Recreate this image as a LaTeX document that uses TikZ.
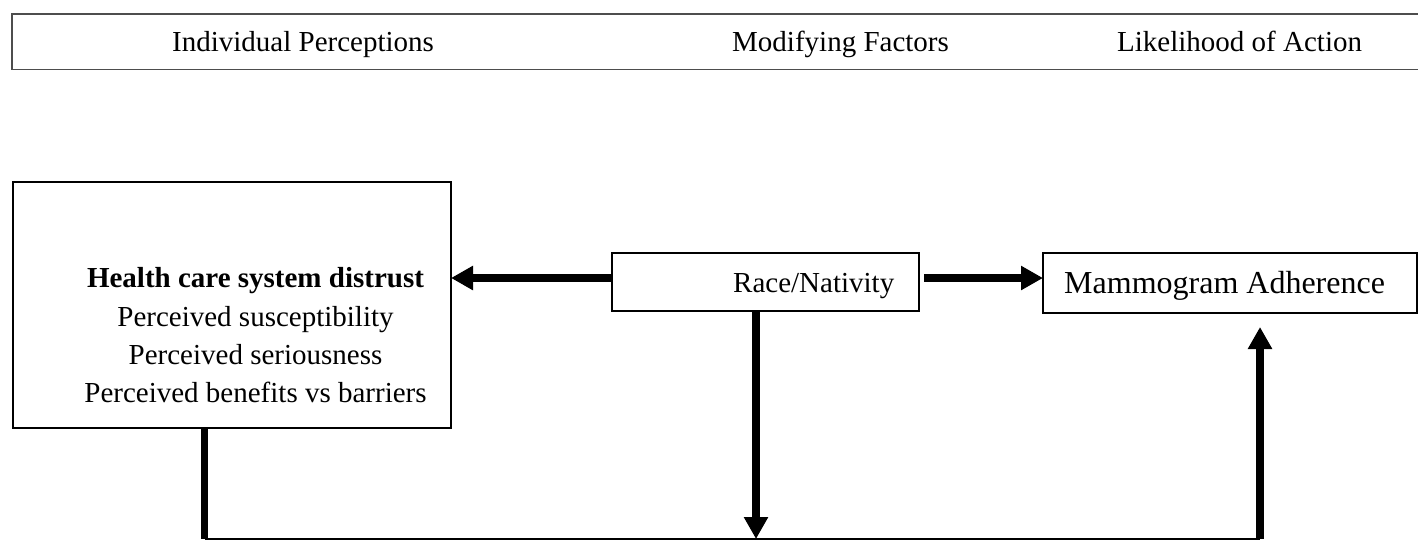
\documentclass[tikz,border=0pt]{standalone}
\usepackage{fontspec}
\setmainfont{Liberation Serif}
\usetikzlibrary{arrows.meta}
\definecolor{hdr}{HTML}{4D4D4D}
\begin{document}
\begin{tikzpicture}[x=1pt,y=-1pt,
  box/.style={draw=black, line width=1.3pt, inner sep=0pt, outer sep=0pt, anchor=north west},
  lbl/.style={font=\fontsize{29}{34}\selectfont, anchor=base west, inner sep=0pt},
  bigarrow/.style={line width=8pt, -{Triangle[length=22pt,width=23pt]}},
  bigline/.style={line width=7.5pt},
  thinline/.style={line width=1.8pt},
  hdrline/.style={draw=hdr, line width=1.4pt}]
\useasboundingbox (0,0) rectangle (1418,542);
% header band
\draw[hdrline] (1420,14) -- (12,14) -- (12,69.5) -- (1420,69.5);
\node[lbl] (h1) at (172,51) {Individual Perceptions};
\node[lbl] (h2) at (732,51) {Modifying Factors};
\node[lbl] (h3) at (1117,51) {Likelihood of Action};
% boxes
\node[box, minimum width=438pt, minimum height=246pt] (hc) at (13,182) {};
\node[box, minimum width=307pt, minimum height=58pt] (race) at (612,253) {};
\node[box, minimum width=374pt, minimum height=60pt] (mam) at (1043,253) {};
% texts
\node[lbl, anchor=base] (l1) at (255.5,287) {\bfseries Health care system distrust};
\node[lbl, anchor=base] (l2) at (255.5,326) {Perceived susceptibility};
\node[lbl, anchor=base] (l3) at (255.5,364) {Perceived seriousness};
\node[lbl, anchor=base] (l4) at (255.5,402) {Perceived benefits vs barriers};
\node[lbl] (rt) at (733,292) {Race/Nativity};
\node[lbl, font=\fontsize{32}{38}\selectfont] (mtx) at (1064,293) {Mammogram Adherence};
% connectors
\coordinate (r0) at ([yshift=4pt]race.west);
\draw[bigarrow] (r0) -- (r0 -| hc.east);
\coordinate (r1) at ([xshift=5pt,yshift=4pt]race.east);
\draw[bigarrow] (r1) -- (r1 -| mam.west);
\coordinate (bm) at (756,539);
\draw[bigarrow] (bm |- race.south) -- (bm);
\coordinate (bl) at (204.5,539);
\draw[bigline] (bl |- hc.south) -- (bl);
\coordinate (br) at (1260,539);
\draw[thinline] (bl) -- (br);
\coordinate (mtop) at (1260,327);
\draw[bigarrow] (br) -- (mtop);
\end{tikzpicture}
\end{document}
